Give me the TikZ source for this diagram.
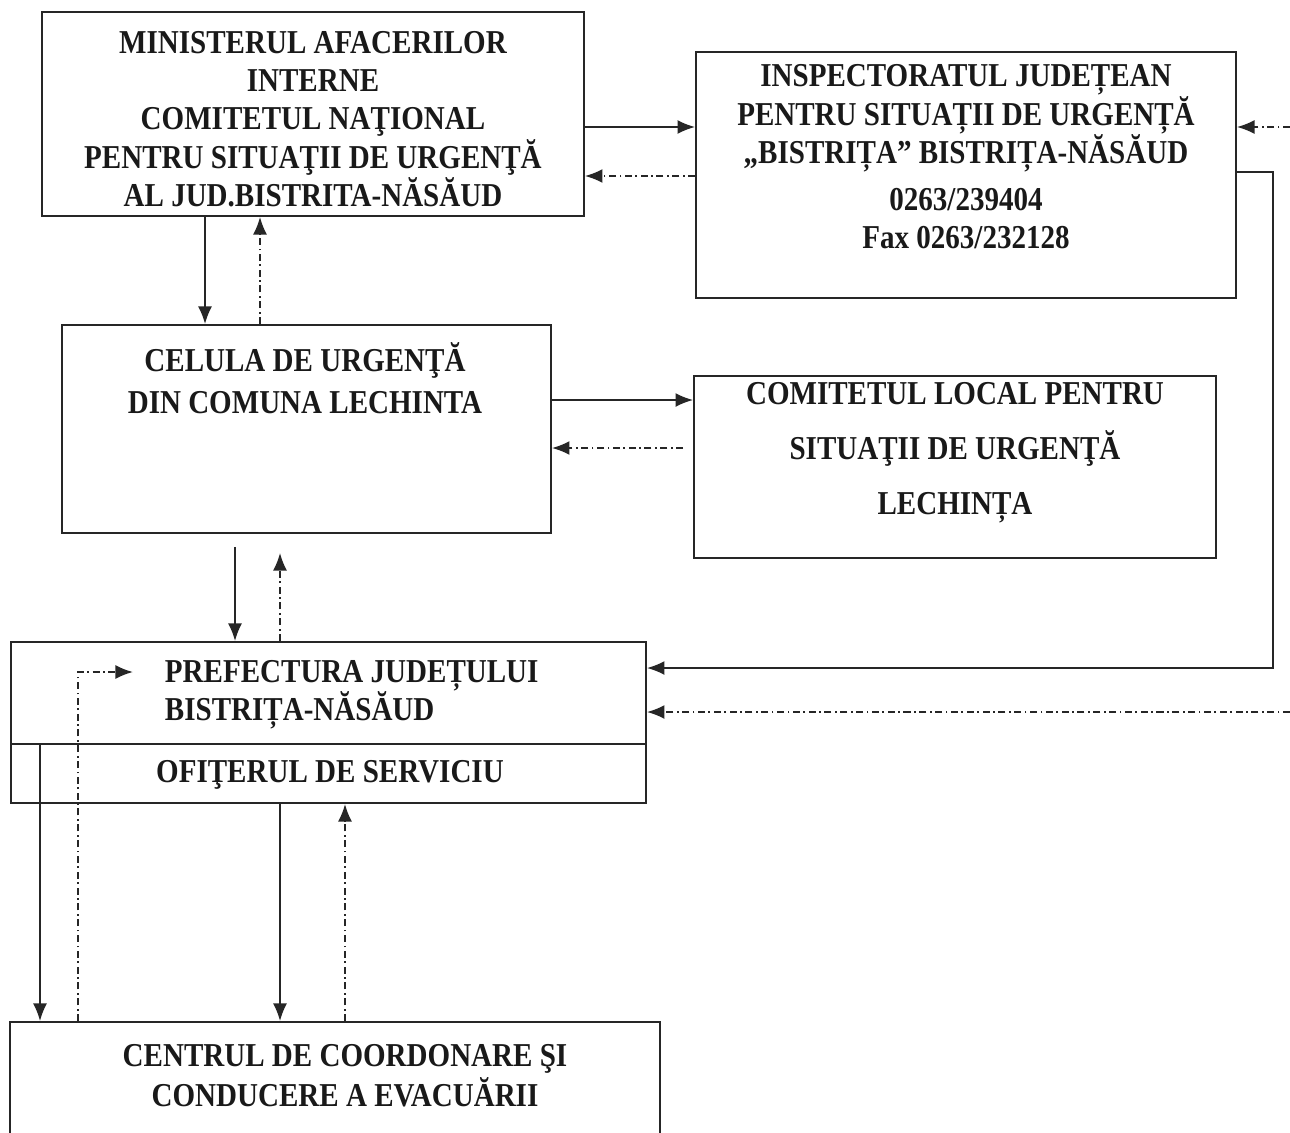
\documentclass[tikz,border=0pt]{standalone}
\usepackage{fontspec}
\setmainfont{Liberation Serif}[FakeStretch=0.87]
\usetikzlibrary{arrows.meta,positioning}
\tikzset{>={Latex[length=10pt,width=8pt]}}
\tikzset{box/.style={draw,inner sep=0pt},
         txt/.style={align=center,inner sep=0pt,text=black!90,
                     font=\fontsize{19pt}{21.8pt}\selectfont\bfseries},
         dd/.style={dash pattern=on 4pt off 2pt on 1pt off 2pt}}

\begin{document}
\begin{tikzpicture}[x=0.02cm,y=-0.02cm,line width=1.1pt,draw=black!85]
\clip (0,0) rectangle (1290,1132);
% boxes
\node[box,minimum width=10.84cm,minimum height=4.08cm] (min) at (313,114) {};
\node[box,minimum width=10.8cm,minimum height=4.92cm] (insp) at (966,175) {};
\node[box,minimum width=9.78cm,minimum height=4.16cm] (cel) at (306.5,429) {};
\node[box,minimum width=10.44cm,minimum height=3.64cm] (loc) at (955,467) {};
\node[box,minimum width=12.7cm,minimum height=2.04cm] (pref) at (328.5,693) {};
\node[box,minimum width=12.7cm,minimum height=1.18cm] (ofi) at (328.5,773.5) {};
\node[box,minimum width=13cm,minimum height=2.76cm] (evac) at (335,1091) {};
% texts
\node[txt] (minT) at (313,119) {MINISTERUL AFACERILOR\\INTERNE\\COMITETUL NAŢIONAL\\PENTRU SITUAŢII DE URGENŢĂ\\AL JUD.BISTRITA-NĂSĂUD};
\node[txt] (inspT) at (966,157) {INSPECTORATUL JUDEȚEAN\\PENTRU SITUAȚII DE URGENȚĂ\\„BISTRIȚA” BISTRIȚA-NĂSĂUD\\[5pt]0263/239404\\Fax 0263/232128};
\node[txt] (celT) at (305,378) {CELULA DE URGENŢĂ\\[2pt]DIN COMUNA LECHINTA};
\node[txt] (locT) at (955,453) {COMITETUL LOCAL PENTRU\\[9.5pt]SITUAŢII DE URGENŢĂ\\[9.5pt]LECHINȚA};
\node[txt,align=left,anchor=west] (prefT) at (164,695) {PREFECTURA JUDEȚULUI\\BISTRIȚA-NĂSĂUD};
\node[txt] (ofiT) at (330,775) {OFIŢERUL DE SERVICIU};
\node[txt] (evacT) at (345,1076) {CENTRUL DE COORDONARE ŞI\\[1pt]CONDUCERE A EVACUĂRII};
% free ends
\coordinate (edgeB) at (1290,127);
\coordinate (edgeE) at (1290,712);
\coordinate (inPref) at (133,672);
% connectors
\draw[->] (min.east |- 0,127) -- (insp.west |- 0,127);
\draw[->,dd] (insp.west |- 0,176) -- (min.east |- 0,176);
\draw[->,dd] (edgeB) -- (insp.east |- edgeB);
\draw[->] (insp.east |- 0,172) -- ++(36,0) |- (pref.east |- 0,668);
\draw[->,dd] (edgeE) -- (pref.east |- edgeE);
\draw[->] (min.south -| 205,0) -- (cel.north -| 205,0);
\draw[->,dd] (cel.north -| 260,0) -- (min.south -| 260,0);
\draw[->] (cel.east |- 0,400) -- (loc.west |- 0,400);
\draw[->,dd,shorten <=0.2cm] (loc.west |- 0,448) -- (cel.east |- 0,448);
\draw[->,shorten <=0.26cm] (cel.south -| 235,0) -- (pref.north -| 235,0);
\draw[->,dd,shorten >=0.38cm] (pref.north -| 280,0) -- (cel.south -| 280,0);
\draw[->] (ofi.north -| 40,0) -- (evac.north -| 40,0);
\draw[->,dd] (evac.north -| 78,0) |- (inPref);
\draw[->] (ofi.south -| 280,0) -- (evac.north -| 280,0);
\draw[->,dd] (evac.north -| 345,0) -- (ofi.south -| 345,0);
\end{tikzpicture}
\end{document}
